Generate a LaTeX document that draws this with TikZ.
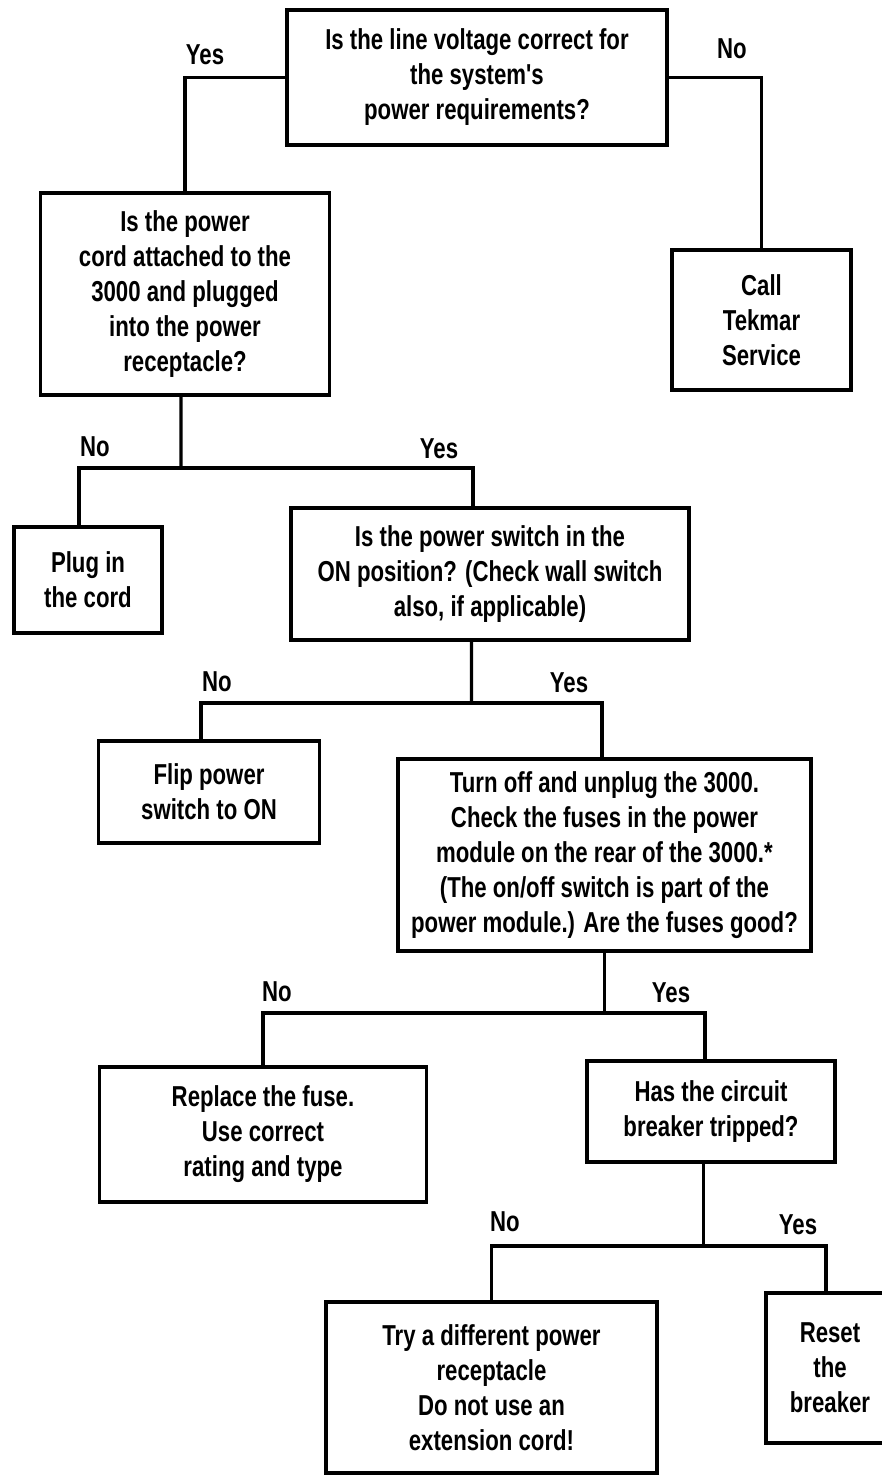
\documentclass[tikz,border=0pt]{standalone}
\usepackage{fontspec}
\newfontfamily\flowfont[FakeStretch=0.77]{Liberation Sans}
\usetikzlibrary{positioning}
\tikzstyle{box} = [align=center,draw,line width=1.8pt,inner sep=2,font=\fontsize{16.4}{19.9}\flowfont\bfseries]
\tikzstyle{branch} = [line width=1.8pt]
\tikzstyle{choice} = [inner sep=0,font=\fontsize{16.4}{19.9}\flowfont\bfseries]

\begin{document}
\begin{tikzpicture}
    \clip (0,0) rectangle (17.64,-29.52);

    % questions and answers
    \node [box,minimum width=7.6cm,minimum height=2.7cm] (volt) at (9.54,-1.55) {Is the line voltage correct for\\the system's\\power requirements?};
    \node [box,minimum width=5.78cm,minimum height=4.04cm] (cord) at (3.70,-5.88) {Is the power\\cord attached to the\\3000 and plugged\\into the power\\receptacle?};
    \node [box,minimum width=3.58cm,minimum height=2.8cm] (service) at (15.23,-6.40) {Call\\Tekmar\\Service};
    \node [box,minimum width=2.96cm,minimum height=2.12cm] (plug) at (1.76,-11.60) {Plug in\\the cord};
    \node [box,minimum width=7.96cm,minimum height=2.64cm] (switch) at (9.80,-11.48) {Is the power switch in the\\ON position? (Check wall switch\\also, if applicable)};
    \node [box,minimum width=4.42cm,minimum height=2.04cm] (flip) at (4.18,-15.84) {Flip power\\switch to ON};
    \node [box,minimum width=8.26cm,minimum height=3.84cm] (fuses) at (12.09,-17.10) {Turn off and unplug the 3000.\\Check the fuses in the power\\module on the rear of the 3000.*\\(The on/off switch is part of the\\power module.) Are the fuses good?};
    \node [box,minimum width=6.54cm,minimum height=2.7cm] (fuse) at (5.26,-22.69) {Replace the fuse.\\Use correct\\rating and type};
    \node [box,minimum width=4.96cm,minimum height=2.02cm] (breaker) at (14.22,-22.23) {Has the circuit\\breaker tripped?};
    \node [box,minimum width=6.62cm,minimum height=3.42cm] (recept) at (9.83,-27.75) {Try a different power\\receptacle\\Do not use an\\extension cord!};
    \node [box,minimum width=2.56cm,minimum height=3cm] (reset) at (16.60,-27.36) {Reset\\the\\breaker};

    % yes / no answers
    \node [choice] (yes1) at (4.10,-1.10) {Yes};
    \node [choice] (no1) at (14.64,-0.98) {No};
    \node [choice] (no2) at (1.90,-8.94) {No};
    \node [choice] (yes2) at (8.78,-8.98) {Yes};
    \node [choice] (no3) at (4.34,-13.64) {No};
    \node [choice] (yes3) at (11.38,-13.66) {Yes};
    \node [choice] (no4) at (5.54,-19.84) {No};
    \node [choice] (yes4) at (13.42,-19.86) {Yes};
    \node [choice] (no5) at (10.10,-24.44) {No};
    \node [choice] (yes5) at (15.96,-24.50) {Yes};

    % branch points
    \coordinate (j1) at (3.62,-9.36);
    \coordinate (j2) at (9.43,-14.06);
    \coordinate (j3) at (12.09,-20.26);
    \coordinate (j4) at (14.07,-24.92);

    \draw [branch] (volt.west) -| (cord.north);
    \draw [branch] (volt.east) -| (service.north);

    \draw [branch] ([xshift=-0.08cm]cord.south) -- (j1);
    \draw [branch] ([xshift=-0.18cm]plug.north) |- (j1) -| ([xshift=-0.34cm]switch.north);

    \draw [branch] ([xshift=-0.37cm]switch.south) -- (j2);
    \draw [branch] ([xshift=-0.16cm]flip.north) |- (j2) -| ([xshift=-0.05cm]fuses.north);

    \draw [branch] (fuses.south) -- (j3);
    \draw [branch] (fuse.north) |- (j3) -| ([xshift=-0.12cm]breaker.north);

    \draw [branch] ([xshift=-0.15cm]breaker.south) -- (j4);
    \draw [branch] (recept.north) |- (j4) -| ([xshift=-0.08cm]reset.north);
\end{tikzpicture}
\end{document}
